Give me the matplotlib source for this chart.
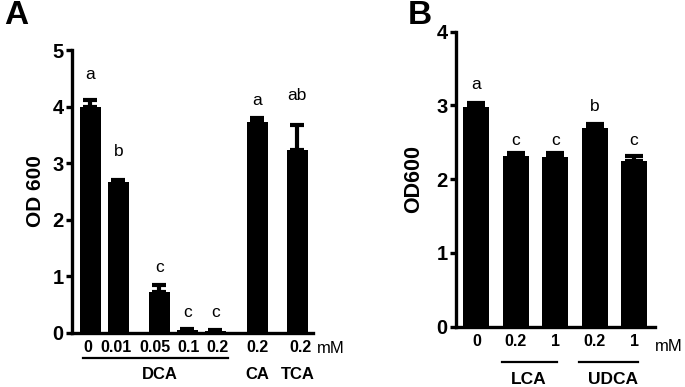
import matplotlib.pyplot as plt
import matplotlib.transforms as mtransforms

plt.rcParams['font.family'] = ['Liberation Sans', 'DejaVu Sans']

# panel A data
a_labels = ['0', '0.01', '0.05', '0.1', '0.2', '0.2', '0.2']
a_means = [3.99, 2.66, 0.73, 0.06, 0.04, 3.72, 3.23]
a_errs = [0.13, 0.05, 0.11, 0.01, 0.01, 0.07, 0.45]
a_letters = ['a', 'b', 'c', 'c', 'c', 'a', 'ab']
a_letter_y = [4.56, 3.2, 1.15, 0.37, 0.37, 4.1, 4.2]

# panel B data
b_labels = ['0', '0.2', '1', '0.2', '1']
b_means = [2.98, 2.32, 2.30, 2.70, 2.24]
b_errs = [0.06, 0.04, 0.05, 0.05, 0.08]
b_letters = ['a', 'c', 'c', 'b', 'c']
b_letter_y = [3.28, 2.53, 2.53, 2.98, 2.53]

W, H = 685, 387
fig = plt.figure(figsize=(W / 100, H / 100), dpi=100)


def px_axes(left, top, right, bottom):
    return fig.add_axes([left / W, 1 - bottom / H, (right - left) / W, (bottom - top) / H])


def style(ax):
    for s in ['top', 'right']:
        ax.spines[s].set_visible(False)
    for s in ['left', 'bottom']:
        ax.spines[s].set_linewidth(2.4)
    ax.tick_params(axis='y', length=4, width=2.4, labelsize=14.5, pad=2)
    ax.tick_params(axis='x', length=0, labelsize=11.5, pad=5)
    for t in ax.get_yticklabels() + ax.get_xticklabels():
        t.set_fontweight('bold')


# ---- A ----
ax1 = px_axes(72, 50, 313, 333)
xa = [0, 1, 2.46, 3.46, 4.46, 5.95, 7.39]
ax1.bar(xa, a_means, width=0.75, color='black')
ax1.errorbar(xa, a_means, yerr=[[0] * len(a_errs), a_errs], fmt='none',
             ecolor='black', elinewidth=3, capsize=5, capthick=3)
for x, l, y in zip(xa, a_letters, a_letter_y):
    ax1.text(x, y, l, ha='center', va='center', fontsize=12.5)
ax1.set_xlim(-0.66, 7.95)
ax1.set_ylim(0, 5)
ax1.set_yticks([0, 1, 2, 3, 4, 5])
ax1.set_xticks(xa)
ax1.set_xticklabels(a_labels)
style(ax1)
# nudge crowded labels apart a little
shifts = [-3, -2, -4, 1, 2, 0, 3]
for t, dx in zip(ax1.get_xticklabels(), shifts):
    t.set_transform(t.get_transform() + mtransforms.Affine2D().translate(dx, 0))
ax1.set_ylabel('OD 600', fontsize=15, fontweight='bold', labelpad=5)
tr1 = mtransforms.blended_transform_factory(ax1.transData, ax1.transAxes)
ax1.text(8.6, -0.055, 'mM', transform=tr1, ha='center', va='center', fontsize=12, clip_on=False)
ax1.plot([-0.27, 4.9], [-0.088, -0.088], color='black', lw=1.6, transform=tr1, clip_on=False)
ax1.text(2.46, -0.147, 'DCA', transform=tr1, ha='center', va='center', fontsize=12, fontweight='bold')
ax1.text(5.95, -0.147, 'CA', transform=tr1, ha='center', va='center', fontsize=12, fontweight='bold')
ax1.text(7.39, -0.147, 'TCA', transform=tr1, ha='center', va='center', fontsize=12, fontweight='bold')

# ---- B ----
ax2 = px_axes(456, 31.7, 655, 326.7)
xb = [0, 1, 2, 3, 4]
ax2.bar(xb, b_means, width=0.66, color='black')
ax2.errorbar(xb, b_means, yerr=[[0] * len(b_errs), b_errs], fmt='none',
             ecolor='black', elinewidth=3, capsize=6.5, capthick=3)
for x, l, y in zip(xb, b_letters, b_letter_y):
    ax2.text(x, y, l, ha='center', va='center', fontsize=12.5)
ax2.set_xlim(-0.515, 4.53)
ax2.set_ylim(0, 4)
ax2.set_yticks([0, 1, 2, 3, 4])
ax2.set_xticks(xb)
ax2.set_xticklabels(b_labels)
style(ax2)
ax2.set_ylabel('OD600', fontsize=15.5, fontweight='bold', labelpad=9)
tr2 = mtransforms.blended_transform_factory(ax2.transData, ax2.transAxes)
ax2.text(4.87, -0.068, 'mM', transform=tr2, ha='center', va='center', fontsize=12, clip_on=False)
ax2.plot([0.65, 2.05], [-0.119, -0.119], color='black', lw=1.6, transform=tr2, clip_on=False)
ax2.plot([2.6, 4.1], [-0.119, -0.119], color='black', lw=1.6, transform=tr2, clip_on=False)
ax2.text(1.32, -0.18, 'LCA', transform=tr2, ha='center', va='center', fontsize=12.5, fontweight='bold')
ax2.text(3.46, -0.18, 'UDCA', transform=tr2, ha='center', va='center', fontsize=12.5, fontweight='bold')

fig.text(16 / W, 1 - 16 / H, 'A', fontsize=24, fontweight='bold', ha='center', va='center')
fig.text(420 / W, 1 - 16 / H, 'B', fontsize=24, fontweight='bold', ha='center', va='center')

fig.savefig('out.png', dpi=100)
